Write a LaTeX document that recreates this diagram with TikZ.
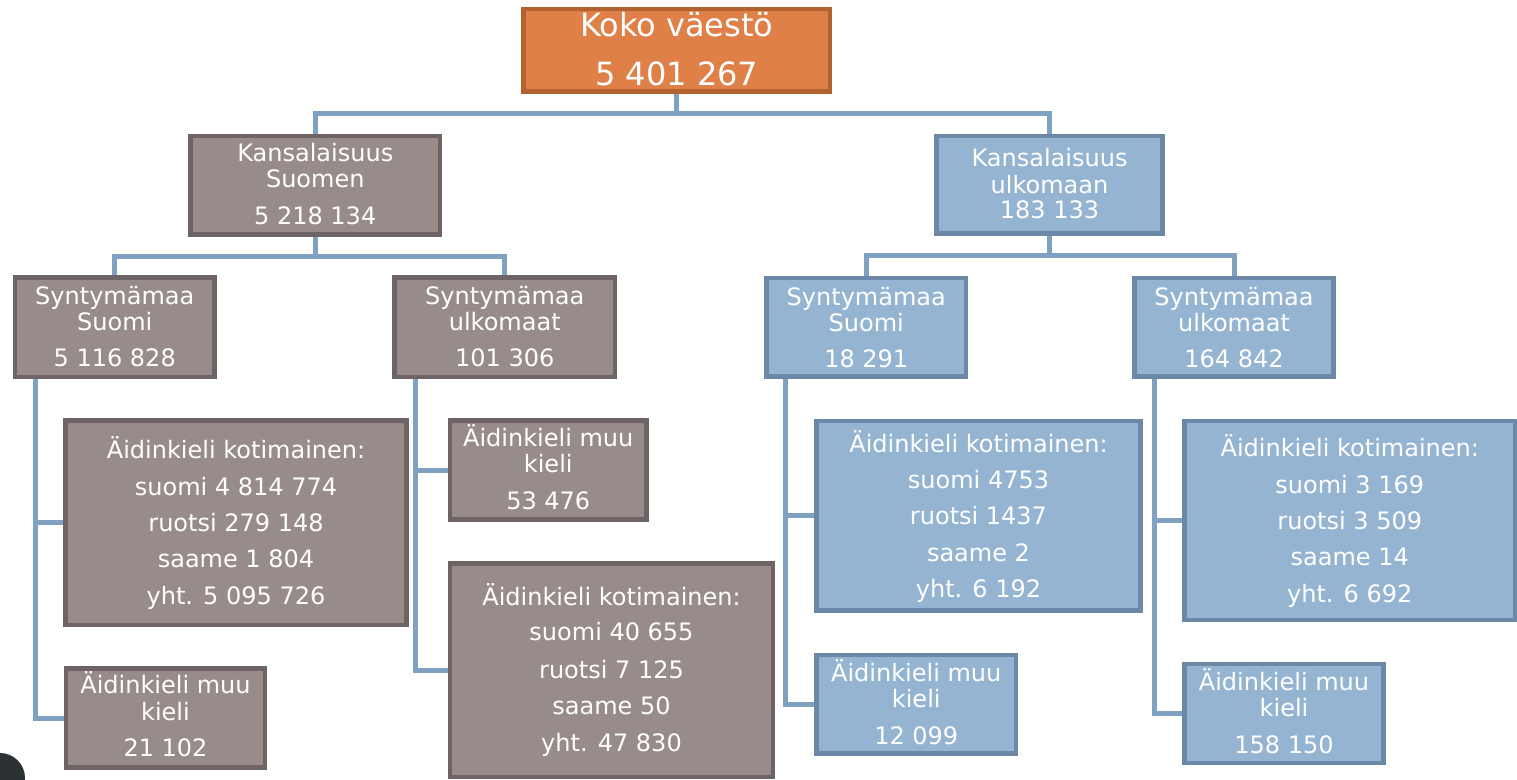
\documentclass[tikz,border=0pt]{standalone}
\usepackage{fontspec}
\setmainfont{DejaVu Sans}
\usetikzlibrary{calc}
\definecolor{gfill}{HTML}{978C8A}
\definecolor{gline}{HTML}{6E6466}
\definecolor{bfill}{HTML}{95B4D2}
\definecolor{bline}{HTML}{6B89A6}
\definecolor{ofill}{HTML}{DF8049}
\definecolor{oline}{HTML}{B2612F}
\definecolor{connc}{HTML}{7FA2C3}
\definecolor{darkc}{HTML}{2C3133}
\tikzset{
  boxbase/.style={rectangle, inner sep=0pt, outer sep=0pt, line width=4.5pt},
  gbox/.style={boxbase, draw=gline, fill=gfill},
  bbox/.style={boxbase, draw=bline, fill=bfill},
  obox/.style={boxbase, draw=oline, fill=ofill},
  conn/.style={draw=connc, line width=5pt},
  txt/.style={anchor=base, inner sep=0pt, text=white, font=\fontsize{24}{28}\selectfont},
  bigtxt/.style={anchor=base, inner sep=0pt, text=white, font=\fontsize{32}{36}\selectfont},
}
\begin{document}
\begin{tikzpicture}[x=1pt,y=-1pt]
\useasboundingbox (0,0) rectangle (1517,779);
\path
 node[obox, minimum width=306.5pt, minimum height=82.5pt] (top) at (676.75,50.25) {}
 node[gbox, minimum width=249.5pt, minimum height=98.5pt] (ks) at (315.25,185.25) {}
 node[bbox, minimum width=226pt, minimum height=97.5pt] (ku) at (1049.5,184.75) {}
 node[gbox, minimum width=199.5pt, minimum height=99.5pt] (s1) at (114.75,327.25) {}
 node[gbox, minimum width=220.5pt, minimum height=99.5pt] (s2) at (504.75,327.25) {}
 node[bbox, minimum width=199.5pt, minimum height=98.5pt] (s3) at (866.25,327.25) {}
 node[bbox, minimum width=199pt, minimum height=98.5pt] (s4) at (1234,327.25) {}
 node[gbox, minimum width=341pt, minimum height=204.5pt] (k1) at (236,522.75) {}
 node[gbox, minimum width=199pt, minimum height=99pt] (m1) at (165.5,718) {}
 node[gbox, minimum width=196.5pt, minimum height=99pt] (m2) at (548.25,470) {}
 node[gbox, minimum width=323pt, minimum height=213.5pt] (k2) at (611.5,670.25) {}
 node[bbox, minimum width=324pt, minimum height=189.5pt] (k3) at (978.5,515.75) {}
 node[bbox, minimum width=199.5pt, minimum height=98.5pt] (m3) at (916.25,704.25) {}
 node[bbox, minimum width=330.5pt, minimum height=199pt] (k4) at (1349.75,520.5) {}
 node[bbox, minimum width=199pt, minimum height=99pt] (m4) at (1284,713.5) {};
% connectors
\draw[conn] (top.south) -- ++(0,22) -| (ks.north);
\draw[conn] (top.south) -- ++(0,22) -| (ku.north);
\draw[conn] (ks.south) -- ++(0,21.5) -| (s1.north);
\draw[conn] (ks.south) -- ++(0,21.5) -| (s2.north);
\draw[conn] (ku.south) -- ++(0,22) -| (s3.north);
\draw[conn] (ku.south) -- ++(0,22) -| (s4.north);
\draw[conn] ([xshift=20pt]s1.south west) |- (k1.west);
\draw[conn] ([xshift=20pt]s1.south west) |- (m1.west);
\draw[conn] ([xshift=21pt]s2.south west) |- (m2.west);
\draw[conn] ([xshift=21pt]s2.south west) |- (k2.west);
\draw[conn] ([xshift=19pt]s3.south west) |- (k3.west);
\draw[conn] ([xshift=19pt]s3.south west) |- (m3.west);
\draw[conn] ([xshift=19.5pt]s4.south west) |- (k4.west);
\draw[conn] ([xshift=19.5pt]s4.south west) |- (m4.west);
% boxes again, above the connector ends
\path
 node[obox, minimum width=306.5pt, minimum height=82.5pt] at (676.75,50.25) {}
 node[gbox, minimum width=249.5pt, minimum height=98.5pt] at (315.25,185.25) {}
 node[bbox, minimum width=226pt, minimum height=97.5pt] at (1049.5,184.75) {}
 node[gbox, minimum width=199.5pt, minimum height=99.5pt] at (114.75,327.25) {}
 node[gbox, minimum width=220.5pt, minimum height=99.5pt] at (504.75,327.25) {}
 node[bbox, minimum width=199.5pt, minimum height=98.5pt] at (866.25,327.25) {}
 node[bbox, minimum width=199pt, minimum height=98.5pt] at (1234,327.25) {}
 node[gbox, minimum width=341pt, minimum height=204.5pt] at (236,522.75) {}
 node[gbox, minimum width=199pt, minimum height=99pt] at (165.5,718) {}
 node[gbox, minimum width=196.5pt, minimum height=99pt] at (548.25,470) {}
 node[gbox, minimum width=323pt, minimum height=213.5pt] at (611.5,670.25) {}
 node[bbox, minimum width=324pt, minimum height=189.5pt] at (978.5,515.75) {}
 node[bbox, minimum width=199.5pt, minimum height=98.5pt] at (916.25,704.25) {}
 node[bbox, minimum width=330.5pt, minimum height=199pt] at (1349.75,520.5) {}
 node[bbox, minimum width=199pt, minimum height=99pt] at (1284,713.5) {};
% texts
\node[bigtxt] (t1) at (676.75,36.5) {Koko väestö};
\node[bigtxt] (t2) at (676.75,85) {5 401 267};
\node[txt] (ks1) at (315.25,161.7) {Kansalaisuus};
\node[txt] (ks2) at (315.25,187.3) {Suomen};
\node[txt] (ks3) at (315.25,224) {5 218 134};
\node[txt] (ku1) at (1049.5,166.7) {Kansalaisuus};
\node[txt] (ku2) at (1049.5,193.3) {ulkomaan};
\node[txt] (ku3) at (1049.5,218.3) {183 133};
\node[txt] (s11) at (114.75,304) {Syntymämaa};
\node[txt] (s12) at (114.75,330) {Suomi};
\node[txt] (s13) at (114.75,366.7) {5 116 828};
\node[txt] (s21) at (504.75,304) {Syntymämaa};
\node[txt] (s22) at (504.75,330) {ulkomaat};
\node[txt] (s23) at (504.75,366.7) {101 306};
\node[txt] (s31) at (866.25,305) {Syntymämaa};
\node[txt] (s32) at (866.25,331) {Suomi};
\node[txt] (s33) at (866.25,367) {18 291};
\node[txt] (s41) at (1234,305) {Syntymämaa};
\node[txt] (s42) at (1234,331) {ulkomaat};
\node[txt] (s43) at (1234,367) {164 842};
\node[txt] (k11) at (236,458.3) {Äidinkieli kotimainen:};
\node[txt] (k12) at (236,495) {suomi 4 814 774};
\node[txt] (k13) at (236,531) {ruotsi 279 148};
\node[txt] (k14) at (236,567.7) {saame 1 804};
\node[txt] (k15) at (236,604.3) {yht. 5 095 726};
\node[txt] (m11) at (165.5,693.3) {Äidinkieli muu};
\node[txt] (m12) at (165.5,720) {kieli};
\node[txt] (m13) at (165.5,756.7) {21 102};
\node[txt] (m21) at (548.25,446.7) {Äidinkieli muu};
\node[txt] (m22) at (548.25,472.7) {kieli};
\node[txt] (m23) at (548.25,509.3) {53 476};
\node[txt] (k21) at (611.5,605) {Äidinkieli kotimainen:};
\node[txt] (k22) at (611.5,640.7) {suomi 40 655};
\node[txt] (k23) at (611.5,678.3) {ruotsi 7 125};
\node[txt] (k24) at (611.5,714.3) {saame 50};
\node[txt] (k25) at (611.5,751) {yht. 47 830};
\node[txt] (k31) at (978.5,452) {Äidinkieli kotimainen:};
\node[txt] (k32) at (978.5,488) {suomi 4753};
\node[txt] (k33) at (978.5,524.2) {ruotsi 1437};
\node[txt] (k34) at (978.5,561) {saame 2};
\node[txt] (k35) at (978.5,597.7) {yht. 6 192};
\node[txt] (m31) at (916.25,681) {Äidinkieli muu};
\node[txt] (m32) at (916.25,707) {kieli};
\node[txt] (m33) at (916.25,744) {12 099};
\node[txt] (k41) at (1349.75,456) {Äidinkieli kotimainen:};
\node[txt] (k42) at (1349.75,493) {suomi 3 169};
\node[txt] (k43) at (1349.75,529.7) {ruotsi 3 509};
\node[txt] (k44) at (1349.75,565.4) {saame 14};
\node[txt] (k45) at (1349.75,602) {yht. 6 692};
\node[txt] (m41) at (1284,690.6) {Äidinkieli muu};
\node[txt] (m42) at (1284,716.6) {kieli};
\node[txt] (m43) at (1284,753) {158 150};
% dark corner shape
\fill[darkc] (0,778) circle (25pt);
\end{tikzpicture}
\end{document}
